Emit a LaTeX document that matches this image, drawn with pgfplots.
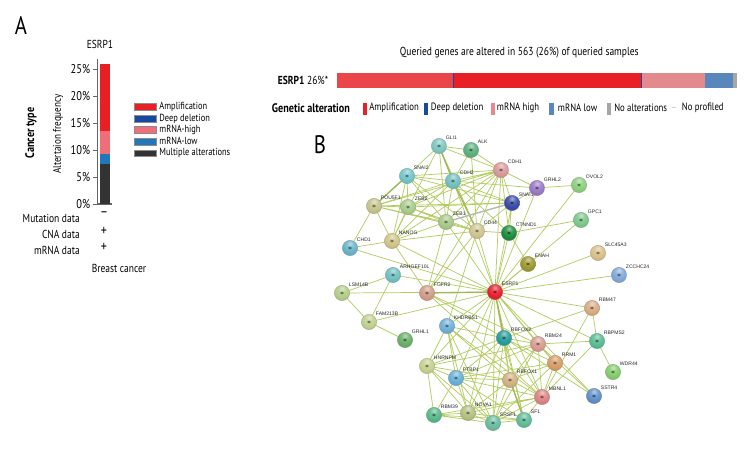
\documentclass[border=0pt]{standalone}
\usepackage{fontspec}
\setmainfont[FakeStretch=0.82]{PT Sans}
\newfontfamily\genefont{Liberation Sans}
\usepackage{pgfplots}
\pgfplotsset{compat=1.18}

\definecolor{ampred}{HTML}{E81F25}
\definecolor{amplight}{HTML}{E9454B}
\definecolor{highpink}{HTML}{EE6F78}
\definecolor{highpale}{HTML}{E48A8E}
\definecolor{lowblue}{HTML}{2277BB}
\definecolor{lowpale}{HTML}{5A87BB}
\definecolor{deepblue}{HTML}{174A9C}
\definecolor{multi}{HTML}{333333}
\definecolor{edgegreen}{HTML}{B3CC62}

% one STRING node: x y colour name
\newcommand{\gene}[4]{%
  \definecolor{g#4}{HTML}{#3}%
  \pgfdeclareradialshading{ball#4}{\pgfpoint{0bp}{15bp}}{%
    color(0bp)=(g#4!45!white); color(12bp)=(g#4!85!white); color(24bp)=(g#4);
    color(38bp)=(g#4!90!black); color(50bp)=(g#4!72!black); color(65bp)=(g#4!52!black); color(100bp)=(g#4!52!black)}%
  \pgfdeclareplotmark{mark#4}{%
    \pgfpathcircle{\pgfpointorigin}{\pgfplotmarksize}%
    \pgfshadepath{ball#4}{0}\pgfusepath{discard}%
    \pgfpathcircle{\pgfpointorigin}{\pgfplotmarksize}%
    \pgfsetlinewidth{.35pt}\pgfsetstrokecolor{g#4!55!gray}\pgfusepath{stroke}}%
  \addplot[only marks,mark=mark#4,mark size=5.7pt] coordinates {(#1,#2)}
    node[anchor=west,xshift=5pt,yshift=6.2pt,inner sep=0pt,text=black!85,font=\genefont\fontsize{3.8}{4}\selectfont] {#4};
  \addplot[only marks,mark=asterisk,mark size=1.4pt,mark options={line width=.3pt,draw=g#4!50!black}] coordinates {(#1,#2)};
}

\begin{document}
\begin{tikzpicture}[x=1pt,y=1pt]
\useasboundingbox (0,0) rectangle (567,342);

% whole canvas in reference pixels
\begin{axis}[
  at={(0,0)},anchor=south west,
  width=567pt,height=342pt,scale only axis,
  xmin=0,xmax=756,ymin=0,ymax=456,y dir=reverse,
  hide axis,clip=false,
  edge/.style={draw=edgegreen,line width=.55pt,mark=none},
  strong/.style={draw=edgegreen!90!black,line width=1pt,mark=none},
]
% network edges, hub by hub
\addplot[edge] coordinates {(439,146)(471,150)(439,146)(501,170)(439,146)(453,181)(439,146)(446,222)(439,146)(477,231)(439,146)(374,206)(439,146)(392,241)};
\addplot[edge] coordinates {(471,150)(501,170)(471,150)(477,231)(471,150)(453,181)};
\addplot[edge] coordinates {(501,170)(453,181)(501,170)(407,176)(501,170)(537,188)(501,170)(512,203)(501,170)(374,206)(501,170)(408,207)(501,170)(446,222)(501,170)(477,231)(501,170)(509,233)(501,170)(392,241)(501,170)(495,292)(501,170)(427,293)};
\addplot[edge] coordinates {(407,176)(453,181)(407,176)(374,206)(407,176)(408,207)(407,176)(446,222)(407,176)(477,231)(407,176)(512,203)(407,176)(392,241)};
\addplot[edge] coordinates {(453,181)(374,206)(453,181)(408,207)(453,181)(446,222)(453,181)(392,241)(453,181)(512,203)(453,181)(509,233)(453,181)(495,292)(453,181)(537,188)};
\addplot[edge] coordinates {(537,188)(579,185)(537,188)(495,292)(537,188)(512,203)};
\addplot[edge] coordinates {(579,185)(495,292)};
\addplot[edge] coordinates {(374,206)(408,207)(374,206)(446,222)(374,206)(477,231)(374,206)(392,241)(374,206)(350,248)(374,206)(512,203)};
\addplot[edge] coordinates {(408,207)(446,222)(408,207)(477,231)(408,207)(392,241)(408,207)(512,203)};
\addplot[edge] coordinates {(512,203)(477,231)(512,203)(509,233)(512,203)(495,292)};
\addplot[edge] coordinates {(581,220)(509,233)(581,220)(495,292)};
\addplot[edge] coordinates {(446,222)(477,231)(446,222)(392,241)(446,222)(495,292)(446,222)(427,293)};
\addplot[edge] coordinates {(477,231)(509,233)(477,231)(392,241)(477,231)(495,292)(477,231)(427,293)(477,231)(447,326)};
\addplot[edge] coordinates {(509,233)(495,292)(509,233)(528,264)};
\addplot[edge] coordinates {(392,241)(495,292)(392,241)(427,293)(392,241)(350,248)};
\addplot[edge] coordinates {(350,248)(495,292)};
\addplot[edge] coordinates {(598,253)(495,292)};
\addplot[edge] coordinates {(528,264)(495,292)};
\addplot[edge] coordinates {(619,275)(495,292)};
\addplot[edge] coordinates {(393,275)(495,292)(393,275)(342,293)(393,275)(369,322)};
\addplot[edge] coordinates {(342,293)(495,292)(342,293)(369,322)};
\addplot[edge] coordinates {(369,322)(405,340)(369,322)(495,292)};
\addplot[edge] coordinates {(495,292)(592,308)(495,292)(447,326)(495,292)(538,344)(495,292)(555,363)(495,292)(597,341)(495,292)(427,366)(495,292)(456,378)(495,292)(510,380)(495,292)(542,397)(495,292)(468,413)(495,292)(493,423)(495,292)(524,420)(495,292)(594,396)};
\addplot[edge] coordinates {(427,293)(504,338)(427,293)(538,344)(427,293)(542,397)};
\addplot[edge] coordinates {(592,308)(504,338)(592,308)(597,341)(592,308)(542,397)};
\addplot[edge] coordinates {(597,341)(613,372)(597,341)(542,397)(597,341)(538,344)};
\addplot[edge] coordinates {(447,326)(504,338)(447,326)(427,366)(447,326)(456,378)(447,326)(510,380)(447,326)(542,397)(447,326)(493,423)(447,326)(468,413)};
\addplot[edge] coordinates {(504,338)(538,344)(504,338)(555,363)(504,338)(427,366)(504,338)(456,378)(504,338)(510,380)(504,338)(542,397)(504,338)(468,413)(504,338)(493,423)(504,338)(524,420)(504,338)(594,396)};
\addplot[edge] coordinates {(538,344)(427,366)(538,344)(456,378)(538,344)(510,380)(538,344)(555,363)(538,344)(542,397)(538,344)(493,423)(538,344)(594,396)};
\addplot[edge] coordinates {(555,363)(456,378)(555,363)(542,397)(555,363)(510,380)(555,363)(493,423)};
\addplot[edge] coordinates {(427,366)(456,378)(427,366)(510,380)(427,366)(434,415)(427,366)(468,413)(427,366)(493,423)};
\addplot[edge] coordinates {(456,378)(510,380)(456,378)(542,397)(456,378)(434,415)(456,378)(468,413)(456,378)(493,423)(456,378)(524,420)};
\addplot[edge] coordinates {(510,380)(542,397)(510,380)(468,413)(510,380)(493,423)(510,380)(524,420)};
\addplot[edge] coordinates {(542,397)(468,413)(542,397)(493,423)(542,397)(524,420)(542,397)(434,415)};
\addplot[edge] coordinates {(434,415)(468,413)(434,415)(493,423)(434,415)(524,420)};
\addplot[edge] coordinates {(468,413)(493,423)(468,413)(524,420)};
\addplot[edge] coordinates {(493,423)(524,420)};
% heavier links
\addplot[strong] coordinates {(439,146)(453,181)(477,231)};
\addplot[strong] coordinates {(427,293)(495,292)(504,338)};
\addplot[strong] coordinates {(374,206)(407,176)};
\addplot[strong] coordinates {(510,380)(524,420)};
\addplot[draw=gray!55,line width=1.1pt,mark=none] coordinates {(446,222)(512,203)};

% nodes
\gene{439}{146}{7CC7BF}{GLI1}
\gene{471}{150}{5CB07E}{ALK}
\gene{501}{170}{D99A9A}{CDH1}
\gene{407}{176}{72C5C9}{SNAI2}
\gene{453}{181}{72C0C0}{CDH2}
\gene{537}{188}{9A78C8}{GRHL2}
\gene{579}{185}{8CCF7C}{OVOL2}
\gene{374}{206}{C4C48C}{POU5F1}
\gene{408}{207}{A8CC8C}{ZEB2}
\gene{512}{203}{3A4AA8}{SNAI1}
\gene{581}{220}{7CC88C}{GPC1}
\gene{446}{222}{A8C888}{ZEB1}
\gene{477}{231}{D0C490}{CD44}
\gene{509}{233}{1C8C3C}{CTNND1}
\gene{392}{241}{D0C488}{NANOG}
\gene{350}{248}{68B4C8}{CHD1}
\gene{598}{253}{D8C088}{SLC45A3}
\gene{528}{264}{9C9830}{ENAH}
\gene{619}{275}{80A8D8}{ZCCHC24}
\gene{393}{275}{70C0C0}{ARHGEF10L}
\gene{342}{293}{B4CC88}{LSM14B}
\gene{427}{293}{D09C88}{FGFR2}
\gene{495}{292}{E82030}{ESRP1}
\gene{592}{308}{D8AC84}{RBM47}
\gene{369}{322}{C0D090}{FAM213B}
\gene{447}{326}{70B0D8}{KHDRBS1}
\gene{405}{340}{68B068}{GRHL1}
\gene{504}{338}{289C9C}{RBFOX2}
\gene{538}{344}{D89C90}{RBM24}
\gene{597}{341}{58BC94}{RBPMS2}
\gene{555}{363}{D89C68}{RRM1}
\gene{427}{366}{C4D08C}{HNRNPM}
\gene{613}{372}{84CC6C}{WDR44}
\gene{456}{378}{68B0D8}{PTBP1}
\gene{510}{380}{D4B080}{RBFOX1}
\gene{542}{397}{DC8484}{MBNL1}
\gene{594}{396}{6090C8}{SSTR4}
\gene{434}{415}{58B888}{RBM39}
\gene{468}{413}{B4C080}{NOVA1}
\gene{493}{423}{68BCA0}{SRSF1}
\gene{524}{420}{60BC98}{SF1}

% panel letters and texts
\node[font=\fontsize{19}{20}\selectfont] at (21,25) {A};
\node[font=\fontsize{19}{20}\selectfont] at (320,145) {B};
\node[font=\fontsize{8.7}{9}\selectfont] at (100,44) {ESRP1};
\node[rotate=90,font=\bfseries\fontsize{9.3}{10}\selectfont] at (31,133) {Cancer type};
\node[rotate=90,font=\fontsize{8.3}{9}\selectfont] at (58,134) {Altertaion frequency};
\node[anchor=east,inner sep=0pt,font=\fontsize{8.7}{9}\selectfont] at (80,218) {Mutation data};
\node[anchor=east,inner sep=0pt,font=\fontsize{8.7}{9}\selectfont] at (80,234) {CNA data};
\node[anchor=east,inner sep=0pt,font=\fontsize{8.7}{9}\selectfont] at (80,250) {mRNA data};
\node[font=\fontsize{11}{11}\selectfont] at (104,214.5) {--};
\node[font=\fontsize{11}{11}\selectfont] at (104,231) {+};
\node[font=\fontsize{11}{11}\selectfont] at (104,247) {+};
\node[font=\fontsize{8.7}{9}\selectfont] at (119,268) {Breast cancer};

\node[font=\fontsize{8.7}{9}\selectfont] at (519.3,52.7) {Queried genes are altered in 563 (26\%) of queried samples};
\node[anchor=west,inner sep=0pt,font=\fontsize{8.7}{9}\selectfont] at (277.7,80.7) {\textbf{ESRP1} 26\%*};
\node[anchor=west,inner sep=0pt,font=\bfseries\fontsize{9.3}{10}\selectfont] at (271.7,107.7) {Genetic alteration};
\fill[ampred] (362.7,102.7) rectangle (366.7,115);
\fill[deepblue] (424,102.7) rectangle (427.7,115);
\fill[highpale] (490.7,102.7) rectangle (495.3,115);
\fill[lowpale] (549.3,102.7) rectangle (554,115);
\fill[gray!70] (606.7,102.7) rectangle (610.7,115);
\fill[gray!35] (672,107.3) rectangle (676,108.2);
\node[anchor=west,inner sep=0pt,font=\fontsize{8}{9}\selectfont] at (369,107.7) {Amplification};
\node[anchor=west,inner sep=0pt,font=\fontsize{8}{9}\selectfont] at (430.7,107.7) {Deep deletion};
\node[anchor=west,inner sep=0pt,font=\fontsize{8}{9}\selectfont] at (496.7,107.7) {mRNA high};
\node[anchor=west,inner sep=0pt,font=\fontsize{8}{9}\selectfont] at (557.7,107.7) {mRNA low};
\node[anchor=west,inner sep=0pt,font=\fontsize{8}{9}\selectfont] at (614,107.7) {No alterations};
\node[anchor=west,inner sep=0pt,font=\fontsize{8}{9}\selectfont] at (681.7,107.7) {No profiled};
\end{axis}

% panel A: stacked frequency bar (x = 97.5 px, baseline y = 204 px)
\begin{axis}[
  at={(73.1pt,189pt)},anchor=south west,
  width=10.7pt,height=108.5pt,scale only axis,
  ybar stacked,bar width=7.5pt,
  xmin=0,xmax=1,ymin=0,ymax=26.8,
  axis x line=bottom,axis y line=left,
  axis line style={-,draw=black!60,line width=.8pt},
  xtick=\empty,
  ytick={0,5,10,15,20,25},
  yticklabel={\pgfmathprintnumber{\tick}\%},
  /pgf/number format/assume math mode=true,
  tick style={draw=black!60,line width=.6pt},
  tick align=outside,
  major tick length=3pt,
  yticklabel style={font=\fontsize{9.5}{10}\selectfont,xshift=1pt},
  clip=false,
  reverse legend,
  legend cell align=left,
  legend style={draw=none,fill=none,at={(axis description cs:2.55,0.708)},anchor=north west,
    font=\fontsize{7.7}{8}\selectfont,inner sep=0pt,row sep=1.2pt,
    nodes={inner sep=0pt,minimum height=7.5pt}},
  legend image code/.code={\draw[#1,draw=black!45,line width=.4pt] (0pt,-2.6pt) rectangle (16.5pt,2.6pt);\path (18.8pt,0pt);},
]
\addplot[fill=multi,draw=none] coordinates {(0.528,7.5)};
\addplot[fill=lowblue,draw=none] coordinates {(0.528,1.8)};
\addplot[fill=highpink,draw=none] coordinates {(0.528,4.3)};
\addplot[fill=deepblue,draw=none] coordinates {(0.528,0)};
\addplot[fill=ampred,draw=none] coordinates {(0.528,12.4)};
\legend{Multiple alterations,mRNA-low,mRNA-high,Deep deletion,Amplification}
\end{axis}

% oncoprint strip, share of all queried samples in percent
\begin{axis}[
  at={(253pt,276.2pt)},anchor=south west,
  width=300pt,height=10.8pt,scale only axis,
  xbar stacked,bar width=10.8pt,
  xmin=0,xmax=100,ymin=-0.5,ymax=0.5,
  hide axis,clip=false,
]
\addplot[fill=amplight,draw=none] coordinates {(28.9,0)};
\addplot[fill=deepblue,draw=none] coordinates {(0.1,0)};
\addplot[fill=ampred,draw=none] coordinates {(46.9,0)};
\addplot[fill=deepblue,draw=none] coordinates {(0.1,0)};
\addplot[fill=highpale,draw=none] coordinates {(16,0)};
\addplot[fill=lowpale,draw=none] coordinates {(6.8,0)};
\addplot[fill=gray!70,draw=none] coordinates {(1.2,0)};
\end{axis}
\end{tikzpicture}
\end{document}
